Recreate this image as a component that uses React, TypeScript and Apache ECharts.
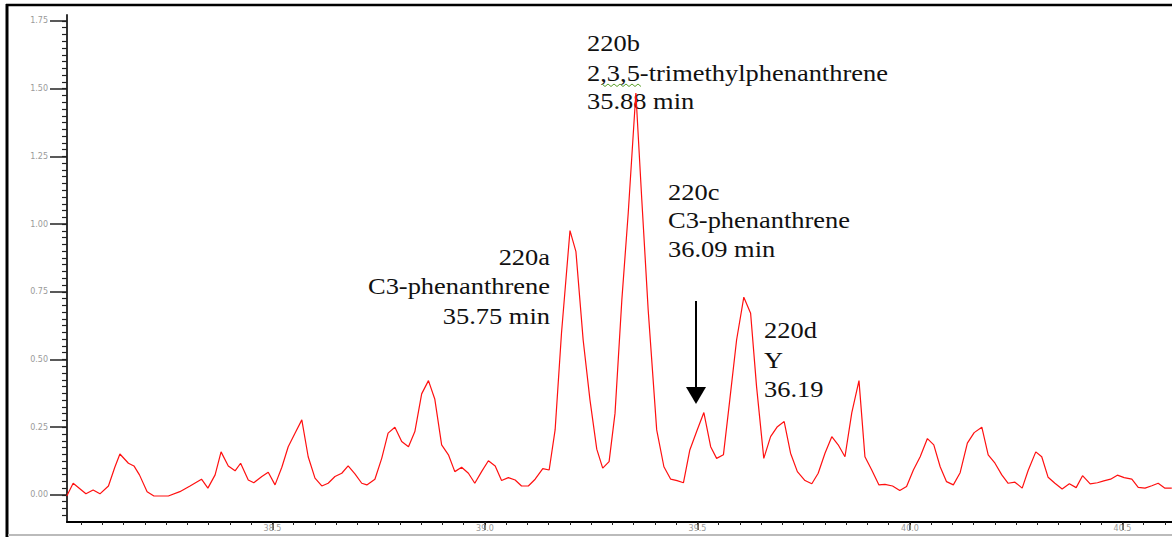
import React, { useEffect, useRef } from "react";
import * as echarts from "echarts";

// Retention-time axis values
const xValues = [
  38.016, 38.031, 38.061, 38.078, 38.094, 38.114, 38.129, 38.141, 38.161, 38.174,
  38.187, 38.205, 38.221, 38.238, 38.255, 38.282, 38.306, 38.333, 38.348, 38.365,
  38.379, 38.396, 38.412, 38.425, 38.443, 38.456, 38.475, 38.49, 38.506, 38.522,
  38.537, 38.553, 38.569, 38.584, 38.6, 38.616, 38.631, 38.647, 38.663, 38.678,
  38.694, 38.71, 38.722, 38.741, 38.757, 38.772, 38.788, 38.804, 38.82, 38.835,
  38.851, 38.867, 38.882, 38.898, 38.914, 38.929, 38.945, 38.961, 38.976, 38.992,
  39.008, 39.024, 39.039, 39.055, 39.071, 39.086, 39.102, 39.118, 39.136, 39.151,
  39.165, 39.18, 39.2, 39.214, 39.231, 39.247, 39.263, 39.277, 39.292, 39.306,
  39.322, 39.337, 39.355, 39.369, 39.384, 39.404, 39.421, 39.437, 39.452, 39.467,
  39.482, 39.498, 39.515, 39.531, 39.545, 39.561, 39.576, 39.592, 39.609, 39.625,
  39.639, 39.656, 39.672, 39.688, 39.704, 39.719, 39.735, 39.753, 39.769, 39.784,
  39.8, 39.816, 39.831, 39.847, 39.863, 39.88, 39.894, 39.91, 39.927, 39.941,
  39.959, 39.976, 39.992, 40.008, 40.024, 40.041, 40.056, 40.071, 40.086, 40.102,
  40.118, 40.135, 40.151, 40.169, 40.184, 40.2, 40.216, 40.231, 40.247, 40.264,
  40.278, 40.296, 40.31, 40.325, 40.341, 40.358, 40.375, 40.391, 40.406, 40.424,
  40.441, 40.456, 40.472, 40.488, 40.504, 40.522, 40.537, 40.553, 40.569, 40.584,
  40.6, 40.616,
];

// Detector response
const yValues = [
  -0.004, 0.043, 0.004, 0.018, 0.004, 0.033, 0.102, 0.151, 0.117, 0.107,
  0.074, 0.012, -0.004, -0.004, -0.004, 0.012, 0.033, 0.058, 0.025, 0.074,
  0.159, 0.107, 0.089, 0.117, 0.055, 0.045, 0.068, 0.084, 0.037, 0.102,
  0.178, 0.228, 0.277, 0.141, 0.062, 0.033, 0.043, 0.068, 0.08, 0.107,
  0.078, 0.043, 0.037, 0.058, 0.135, 0.228, 0.25, 0.197, 0.178, 0.234,
  0.373, 0.422, 0.353, 0.185, 0.148, 0.086, 0.102, 0.08, 0.043, 0.086,
  0.126, 0.107, 0.053, 0.064, 0.055, 0.033, 0.033, 0.058, 0.097, 0.092,
  0.24, 0.597, 0.976, 0.898, 0.572, 0.351, 0.169, 0.099, 0.123, 0.302,
  0.72, 1.04, 1.484, 1.089, 0.683, 0.24, 0.104, 0.058, 0.053, 0.045,
  0.166, 0.234, 0.304, 0.178, 0.135, 0.148, 0.351, 0.572, 0.73, 0.671,
  0.4, 0.135, 0.215, 0.252, 0.271, 0.154, 0.086, 0.053, 0.041, 0.08,
  0.154, 0.215, 0.185, 0.141, 0.303, 0.422, 0.141, 0.092, 0.037, 0.039,
  0.033, 0.016, 0.031, 0.092, 0.141, 0.208, 0.185, 0.104, 0.049, 0.037,
  0.082, 0.191, 0.23, 0.25, 0.148, 0.117, 0.074, 0.043, 0.047, 0.025,
  0.09, 0.159, 0.141, 0.065, 0.043, 0.022, 0.041, 0.027, 0.071, 0.041,
  0.045, 0.052, 0.058, 0.073, 0.064, 0.058, 0.028, 0.025, 0.034, 0.043,
  0.025, 0.025,
];

const yTickLabels = [0, 0.25, 0.5, 0.75, 1.0, 1.25, 1.5, 1.75];
const xTickLabels = [38.5, 39.0, 39.5, 40.0, 40.5];

const note220a = ["220a", "C3-phenanthrene", "35.75 min"];
const note220b = ["220b", "2,3,5-trimethylphenanthrene", "35.88 min"];
const note220c = ["220c", "C3-phenanthrene", "36.09 min"];
const note220d = ["220d", "Y", "36.19"];

const X_MIN = 38.0165;
const X_MAX = 40.6165;
const Y_MIN = -0.1;
const Y_MAX = 1.772;

const yMinor: number[] = [];
for (let i = -3; i <= 70; i++) yMinor.push(+(i * 0.025).toFixed(3));
const xMinor: number[] = [];
for (let i = 761; i <= 812; i++) xMinor.push(+(i * 0.05).toFixed(2));

const FONT = '23px "Liberation Serif", "Times New Roman", serif';
const SX = 1.15;

function noteBlock(lines: string[], x: number, baselines: number[], align: string) {
  return lines.map((t, i) => ({
    type: "text",
    x,
    y: baselines[i] - 7.8,
    scaleX: SX,
    z: 1,
    style: {
      text: t,
      font: FONT,
      fill: "#111",
      align,
      verticalAlign: "middle",
      textAlign: align,
      textVerticalAlign: "middle",
    },
  }));
}

export default function App() {
  const ref = useRef<HTMLDivElement>(null);
  useEffect(() => {
    if (!ref.current) return;
    const chart = echarts.init(ref.current, null, { renderer: "svg" });
    const data = xValues.map((x, i) => [x, yValues[i]]);

    const squiggle: number[][] = [];
    for (let i = 0; i <= 13; i++) squiggle.push([602 + i * 3, i % 2 === 0 ? 84 : 86.5]);

    const option: any = {
      animation: false,
      backgroundColor: "#ffffff",
      grid: { left: 67, right: 0, top: 15, bottom: 15 },
      xAxis: [
        {
          type: "value",
          min: X_MIN,
          max: X_MAX,
          position: "bottom",
          axisLine: { show: true, onZero: false, lineStyle: { color: "#000", width: 2 } },
          axisTick: {
            show: true,
            customValues: xTickLabels,
            length: 8,
            lineStyle: { color: "#222", width: 1.5 },
          },
          axisLabel: {
            show: true,
            customValues: xTickLabels,
            formatter: (v: number) => v.toFixed(1),
            margin: 2,
            color: "#9a9a9a",
            fontSize: 8,
            fontFamily: "DejaVu Sans",
          },
          splitLine: { show: false },
        },
        {
          type: "value",
          min: X_MIN,
          max: X_MAX,
          position: "bottom",
          axisLine: { show: false, onZero: false },
          axisTick: { show: true, customValues: xMinor, length: 3, lineStyle: { color: "#222", width: 1 } },
          axisLabel: { show: false },
          splitLine: { show: false },
        },
      ],
      yAxis: [
        {
          type: "value",
          min: Y_MIN,
          max: Y_MAX,
          position: "left",
          axisLine: { show: true, onZero: false, lineStyle: { color: "#333", width: 2 } },
          axisTick: {
            show: true,
            customValues: yTickLabels,
            length: 17,
            lineStyle: { color: "#222", width: 1.5 },
          },
          axisLabel: {
            show: true,
            customValues: yTickLabels,
            formatter: (v: number) => v.toFixed(2),
            margin: 19,
            color: "#9a9a9a",
            fontSize: 8,
            fontFamily: "DejaVu Sans",
          },
          splitLine: { show: false },
        },
        {
          type: "value",
          min: Y_MIN,
          max: Y_MAX,
          position: "left",
          axisLine: { show: false, onZero: false },
          axisTick: { show: true, customValues: yMinor, length: 5, lineStyle: { color: "#222", width: 1.2 } },
          axisLabel: { show: false },
          splitLine: { show: false },
        },
      ],
      series: [
        {
          type: "line",
          xAxisIndex: 0,
          yAxisIndex: 0,
          data,
          showSymbol: false,
          symbol: "none",
          z: 3,
          lineStyle: { color: "#ff1010", width: 1.2 },
        },
      ],
      graphic: {
        elements: [
          { type: "line", shape: { x1: 7, y1: 4, x2: 7, y2: 537 }, style: { stroke: "#000", lineWidth: 3 } },
          { type: "line", shape: { x1: 6, y1: 5, x2: 1172, y2: 5 }, style: { stroke: "#000", lineWidth: 2.5 } },
          { type: "line", shape: { x1: 8, y1: 535, x2: 1172, y2: 535 }, style: { stroke: "#bbbbbb", lineWidth: 2 } },
          ...noteBlock(note220a, 550, [264.5, 294, 323.5], "right"),
          ...noteBlock(note220b, 587, [50.5, 80.5, 109], "left"),
          ...noteBlock(note220c, 668, [200, 228.3, 256.7], "left"),
          ...noteBlock(note220d, 764, [338.3, 368.3, 397.3], "left"),
          { type: "polyline", z: 2, shape: { points: squiggle }, style: { stroke: "#5aa02c", lineWidth: 1, fill: null } },
          { type: "line", z: 5, shape: { x1: 696, y1: 301, x2: 696, y2: 392 }, style: { stroke: "#000", lineWidth: 2 } },
          {
            type: "polygon",
            z: 5,
            shape: { points: [[686, 387], [706, 387], [696, 404]] },
            style: { fill: "#000" },
          },
        ],
      },
    };
    chart.setOption(option);
    return () => chart.dispose();
  }, []);
  return (
    <div
      ref={ref}
      style={{ position: "fixed", left: 0, top: 0, width: 1172, height: 537, background: "#fff" }}
    />
  );
}
